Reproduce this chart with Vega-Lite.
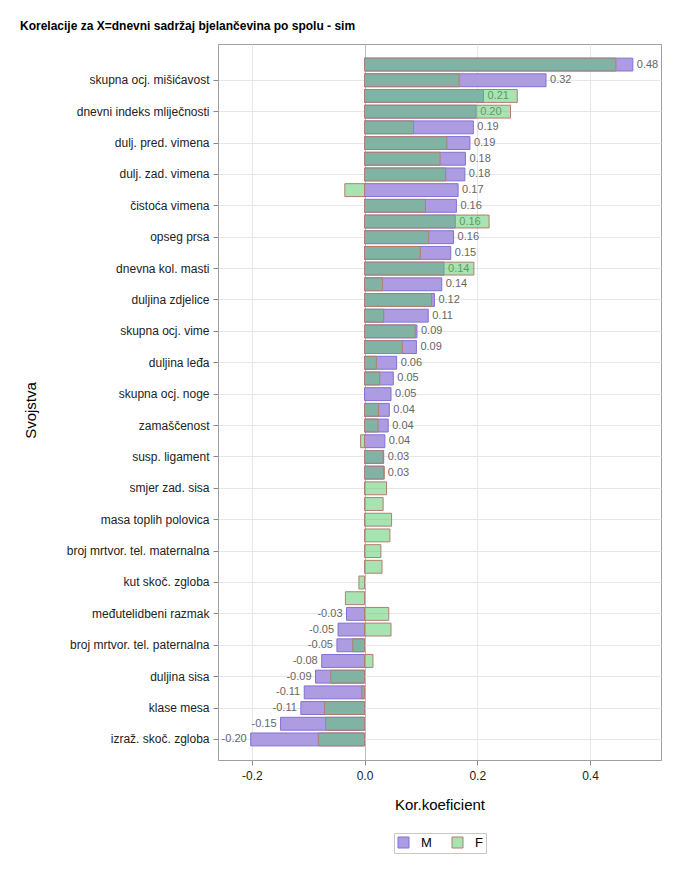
{
  "$schema": "https://vega.github.io/schema/vega-lite/v6.json",
  "autosize": "none",
  "width": 443,
  "height": 716,
  "padding": {"left": 218, "top": 44, "right": 19, "bottom": 109},
  "title": {
    "text": "Korelacije za X=dnevni sadržaj bjelančevina po spolu - sim",
    "anchor": "start",
    "frame": "group",
    "dx": -198,
    "dy": 12,
    "fontSize": 12,
    "fontWeight": "bold",
    "font": "Liberation Sans",
    "color": "#000000",
    "baseline": "alphabetic",
    "offset": 14
  },
  "config": {
    "font": "Liberation Sans",
    "view": {"stroke": "#a0a0a0", "strokeWidth": 1},
    "locale": {
      "number": {"decimal": ".", "thousands": ",", "grouping": [3], "currency": ["$", ""], "minus": "-"}
    },
    "legend": {
      "orient": "none",
      "legendX": 176,
      "legendY": 789,
      "direction": "horizontal",
      "title": null,
      "padding": 3,
      "strokeColor": "#c8c8c8",
      "fillColor": "#ffffff",
      "symbolType": "square",
      "symbolSize": 121,
      "symbolStrokeWidth": 1,
      "labelFontSize": 13,
      "labelColor": "#000000",
      "labelOffset": 11,
      "columnPadding": 18
    }
  },
  "data": {
    "values": [
      {"svojstvo": "neoznačeno 1", "spol": "M", "r": 0.476},
      {"svojstvo": "neoznačeno 1", "spol": "F", "r": 0.446},
      {"svojstvo": "skupna ocj. mišićavost", "spol": "M", "r": 0.322},
      {"svojstvo": "skupna ocj. mišićavost", "spol": "F", "r": 0.168},
      {"svojstvo": "neoznačeno 2", "spol": "M", "r": 0.211},
      {"svojstvo": "neoznačeno 2", "spol": "F", "r": 0.271},
      {"svojstvo": "dnevni indeks mliječnosti", "spol": "M", "r": 0.198},
      {"svojstvo": "dnevni indeks mliječnosti", "spol": "F", "r": 0.259},
      {"svojstvo": "neoznačeno 3", "spol": "M", "r": 0.193},
      {"svojstvo": "neoznačeno 3", "spol": "F", "r": 0.087},
      {"svojstvo": "dulj. pred. vimena", "spol": "M", "r": 0.187},
      {"svojstvo": "dulj. pred. vimena", "spol": "F", "r": 0.146},
      {"svojstvo": "neoznačeno 4", "spol": "M", "r": 0.179},
      {"svojstvo": "neoznačeno 4", "spol": "F", "r": 0.134},
      {"svojstvo": "dulj. zad. vimena", "spol": "M", "r": 0.178},
      {"svojstvo": "dulj. zad. vimena", "spol": "F", "r": 0.144},
      {"svojstvo": "neoznačeno 5", "spol": "M", "r": 0.166},
      {"svojstvo": "neoznačeno 5", "spol": "F", "r": -0.035},
      {"svojstvo": "čistoća vimena", "spol": "M", "r": 0.163},
      {"svojstvo": "čistoća vimena", "spol": "F", "r": 0.108},
      {"svojstvo": "neoznačeno 6", "spol": "M", "r": 0.161},
      {"svojstvo": "neoznačeno 6", "spol": "F", "r": 0.221},
      {"svojstvo": "opseg prsa", "spol": "M", "r": 0.158},
      {"svojstvo": "opseg prsa", "spol": "F", "r": 0.114},
      {"svojstvo": "neoznačeno 7", "spol": "M", "r": 0.153},
      {"svojstvo": "neoznačeno 7", "spol": "F", "r": 0.099},
      {"svojstvo": "dnevna kol. masti", "spol": "M", "r": 0.141},
      {"svojstvo": "dnevna kol. masti", "spol": "F", "r": 0.194},
      {"svojstvo": "neoznačeno 8", "spol": "M", "r": 0.137},
      {"svojstvo": "neoznačeno 8", "spol": "F", "r": 0.032},
      {"svojstvo": "duljina zdjelice", "spol": "M", "r": 0.124},
      {"svojstvo": "duljina zdjelice", "spol": "F", "r": 0.119},
      {"svojstvo": "neoznačeno 9", "spol": "M", "r": 0.113},
      {"svojstvo": "neoznačeno 9", "spol": "F", "r": 0.034},
      {"svojstvo": "skupna ocj. vime", "spol": "M", "r": 0.093},
      {"svojstvo": "skupna ocj. vime", "spol": "F", "r": 0.09},
      {"svojstvo": "neoznačeno 10", "spol": "M", "r": 0.092},
      {"svojstvo": "neoznačeno 10", "spol": "F", "r": 0.067},
      {"svojstvo": "duljina leđa", "spol": "M", "r": 0.057},
      {"svojstvo": "duljina leđa", "spol": "F", "r": 0.021},
      {"svojstvo": "neoznačeno 11", "spol": "M", "r": 0.051},
      {"svojstvo": "neoznačeno 11", "spol": "F", "r": 0.027},
      {"svojstvo": "skupna ocj. noge", "spol": "M", "r": 0.047},
      {"svojstvo": "neoznačeno 12", "spol": "M", "r": 0.044},
      {"svojstvo": "neoznačeno 12", "spol": "F", "r": 0.025},
      {"svojstvo": "zamaščenost", "spol": "M", "r": 0.042},
      {"svojstvo": "zamaščenost", "spol": "F", "r": 0.024},
      {"svojstvo": "neoznačeno 13", "spol": "M", "r": 0.036},
      {"svojstvo": "neoznačeno 13", "spol": "F", "r": -0.007},
      {"svojstvo": "susp. ligament", "spol": "M", "r": 0.034},
      {"svojstvo": "susp. ligament", "spol": "F", "r": 0.033},
      {"svojstvo": "neoznačeno 14", "spol": "M", "r": 0.034},
      {"svojstvo": "neoznačeno 14", "spol": "F", "r": 0.035},
      {"svojstvo": "smjer zad. sisa", "spol": "F", "r": 0.039},
      {"svojstvo": "neoznačeno 15", "spol": "F", "r": 0.033},
      {"svojstvo": "masa toplih polovica", "spol": "F", "r": 0.048},
      {"svojstvo": "neoznačeno 16", "spol": "F", "r": 0.045},
      {"svojstvo": "broj mrtvor. tel. maternalna", "spol": "F", "r": 0.029},
      {"svojstvo": "neoznačeno 17", "spol": "F", "r": 0.031},
      {"svojstvo": "kut skoč. zgloba", "spol": "F", "r": -0.01},
      {"svojstvo": "neoznačeno 18", "spol": "F", "r": -0.034},
      {"svojstvo": "međutelidbeni razmak", "spol": "M", "r": -0.032},
      {"svojstvo": "međutelidbeni razmak", "spol": "F", "r": 0.043},
      {"svojstvo": "neoznačeno 19", "spol": "M", "r": -0.047},
      {"svojstvo": "neoznačeno 19", "spol": "F", "r": 0.047},
      {"svojstvo": "broj mrtvor. tel. paternalna", "spol": "M", "r": -0.049},
      {"svojstvo": "broj mrtvor. tel. paternalna", "spol": "F", "r": -0.021},
      {"svojstvo": "neoznačeno 20", "spol": "M", "r": -0.076},
      {"svojstvo": "neoznačeno 20", "spol": "F", "r": 0.015},
      {"svojstvo": "duljina sisa", "spol": "M", "r": -0.087},
      {"svojstvo": "duljina sisa", "spol": "F", "r": -0.06},
      {"svojstvo": "neoznačeno 21", "spol": "M", "r": -0.107},
      {"svojstvo": "neoznačeno 21", "spol": "F", "r": -0.005},
      {"svojstvo": "klase mesa", "spol": "M", "r": -0.113},
      {"svojstvo": "klase mesa", "spol": "F", "r": -0.071},
      {"svojstvo": "neoznačeno 22", "spol": "M", "r": -0.149},
      {"svojstvo": "neoznačeno 22", "spol": "F", "r": -0.069},
      {"svojstvo": "izraž. skoč. zgloba", "spol": "M", "r": -0.202},
      {"svojstvo": "izraž. skoč. zgloba", "spol": "F", "r": -0.082}
    ]
  },
  "encoding": {
    "y": {
      "field": "svojstvo",
      "type": "nominal",
      "title": "Svojstva",
      "sort": ["neoznačeno 1", "skupna ocj. mišićavost", "neoznačeno 2", "dnevni indeks mliječnosti", "neoznačeno 3", "dulj. pred. vimena", "neoznačeno 4", "dulj. zad. vimena", "neoznačeno 5", "čistoća vimena", "neoznačeno 6", "opseg prsa", "neoznačeno 7", "dnevna kol. masti", "neoznačeno 8", "duljina zdjelice", "neoznačeno 9", "skupna ocj. vime", "neoznačeno 10", "duljina leđa", "neoznačeno 11", "skupna ocj. noge", "neoznačeno 12", "zamaščenost", "neoznačeno 13", "susp. ligament", "neoznačeno 14", "smjer zad. sisa", "neoznačeno 15", "masa toplih polovica", "neoznačeno 16", "broj mrtvor. tel. maternalna", "neoznačeno 17", "kut skoč. zgloba", "neoznačeno 18", "međutelidbeni razmak", "neoznačeno 19", "broj mrtvor. tel. paternalna", "neoznačeno 20", "duljina sisa", "neoznačeno 21", "klase mesa", "neoznačeno 22", "izraž. skoč. zgloba"],
      "scale": {"paddingInner": 0.18, "paddingOuter": 0.9},
      "axis": {
        "values": ["skupna ocj. mišićavost", "dnevni indeks mliječnosti", "dulj. pred. vimena", "dulj. zad. vimena", "čistoća vimena", "opseg prsa", "dnevna kol. masti", "duljina zdjelice", "skupna ocj. vime", "duljina leđa", "skupna ocj. noge", "zamaščenost", "susp. ligament", "smjer zad. sisa", "masa toplih polovica", "broj mrtvor. tel. maternalna", "kut skoč. zgloba", "međutelidbeni razmak", "broj mrtvor. tel. paternalna", "duljina sisa", "klase mesa", "izraž. skoč. zgloba"],
        "grid": true,
        "gridColor": "#e6e6e6",
        "domain": false,
        "tickColor": "#888888",
        "tickSize": 5,
        "labelPadding": 4,
        "labelFontSize": 12,
        "labelColor": "#222222",
        "labelLimit": 300,
        "titleFontSize": 15,
        "titleFontWeight": "normal",
        "titleColor": "#000000",
        "titleX": -188,
        "titleY": 366,
        "titleAngle": -90,
        "titleAlign": "center",
        "titleBaseline": "middle"
      }
    },
    "x": {
      "field": "r",
      "type": "quantitative",
      "title": "Kor.koeficient",
      "scale": {"domain": [-0.26, 0.526], "nice": false, "zero": false},
      "axis": {
        "values": [-0.2, 0, 0.2, 0.4],
        "format": ".1f",
        "grid": true,
        "gridColor": {"condition": {"test": "datum.value === 0", "value": "#bdbdbd"}, "value": "#e6e6e6"},
        "domain": false,
        "tickColor": "#888888",
        "tickSize": 5,
        "labelPadding": 5,
        "labelFontSize": 12,
        "labelColor": "#222222",
        "titleFontSize": 15,
        "titleFontWeight": "normal",
        "titleColor": "#000000",
        "titleY": 44,
        "titleBaseline": "middle"
      }
    }
  },
  "layer": [
    {
      "transform": [{"filter": "datum.spol === 'M'"}],
      "mark": {"type": "bar", "strokeWidth": 1},
      "encoding": {
        "color": {
          "field": "spol",
          "type": "nominal",
          "scale": {"domain": ["M", "F"], "range": ["#ae9ce2", "#51c965"]},
          "legend": {
            "encode": {
              "symbols": {
                "update": {
                  "fillOpacity": {"signal": "datum.value === 'F' ? 0.5 : 1"},
                  "stroke": {"signal": "datum.value === 'F' ? '#d08c80' : '#8270d4'"}
                }
              }
            }
          }
        },
        "stroke": {"field": "spol", "type": "nominal", "scale": {"domain": ["M", "F"], "range": ["#8270d4", "#b07f70"]}},
        "fillOpacity": {"field": "spol", "type": "nominal", "scale": {"domain": ["M", "F"], "range": [1, 0.5]}}
      }
    },
    {
      "transform": [{"filter": "datum.spol === 'M' && datum.r >= 0"}],
      "mark": {"type": "text", "align": "left", "baseline": "middle", "dx": 4, "fontSize": 11, "color": "#666666"},
      "encoding": {"text": {"field": "r", "type": "quantitative", "format": ".2f"}}
    },
    {
      "transform": [{"filter": "datum.spol === 'M' && datum.r < 0"}],
      "mark": {"type": "text", "align": "right", "baseline": "middle", "dx": -4, "fontSize": 11, "color": "#666666"},
      "encoding": {"text": {"field": "r", "type": "quantitative", "format": ".2f"}}
    },
    {
      "transform": [{"filter": "datum.spol === 'F'"}],
      "mark": {"type": "bar", "strokeWidth": 1},
      "encoding": {
        "color": {"field": "spol", "type": "nominal"},
        "stroke": {"field": "spol", "type": "nominal"},
        "fillOpacity": {"field": "spol", "type": "nominal"}
      }
    }
  ]
}
